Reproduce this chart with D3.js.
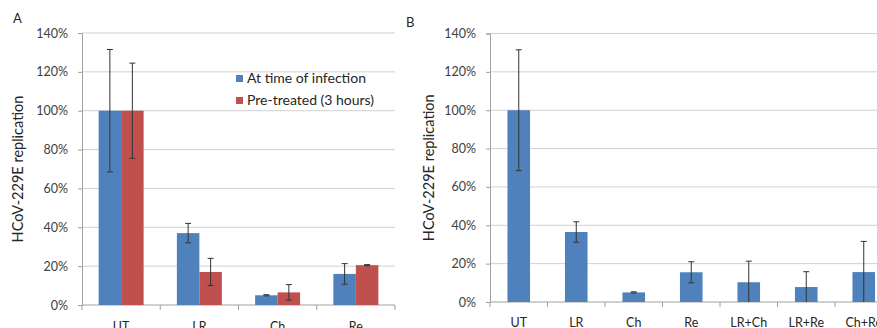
<!DOCTYPE html>
<html><head><meta charset="utf-8">
<script src="https://cdn.jsdelivr.net/npm/d3@7"></script>
<style>body{margin:0;background:#fff;}svg{display:block;}text{font-family:Lato,"Open Sans",sans-serif;}</style>
</head><body><div id="c"></div>
<script>
const catsA = ["UT","LR","Ch","Re"];
const atInfection = [100,37,5,16];
const atInfectionErr = [31.5,5,0.3,5.3];
const preTreated = [100,17,6.5,20.5];
const preTreatedErr = [24.5,7,4,0.3];
const seriesNames = ["At time of infection","Pre-treated (3 hours)"];
const catsB = ["UT","LR","Ch","Re","LR+Ch","LR+Re","Ch+Re"];
const valuesB = [100,36.5,5,15.5,10.3,7.8,15.6];
const errB = [31.5,5.3,0.3,5.5,11,8,16];
const yTicks = [0,20,40,60,80,100,120,140];
const colors = ["#4F81BD","#C0504D"];

const W=877,H=328;
const svg=d3.select("#c").append("svg").attr("width",W).attr("height",H);

function panel(opt){
  const g=svg.append("g");
  const y=d3.scaleLinear().domain([0,140]).range([opt.y0,opt.y1]);
  const x=d3.scaleBand().domain(opt.cats).range([opt.x0,opt.x1]).paddingInner(opt.pad).paddingOuter(opt.pad/2);
  g.selectAll(".grid").data(yTicks.filter(d=>d>0)).join("line")
    .attr("x1",opt.x0).attr("x2",opt.x1).attr("y1",d=>y(d)).attr("y2",d=>y(d))
    .attr("stroke","#d0d0d0").attr("stroke-width",1);
  const ya=g.append("g").attr("transform",`translate(${opt.x0},0)`)
    .call(d3.axisLeft(y).tickValues(yTicks).tickFormat(d=>d+"%").tickSize(4).tickPadding(10));
  ya.select(".domain").attr("stroke","#a0a0a0");
  ya.selectAll(".tick line").attr("stroke","#a0a0a0");
  ya.selectAll("text").attr("font-size",12.5).attr("fill","#404040").attr("font-family","Lato,sans-serif");
  const step=x.step();
  g.append("line").attr("x1",opt.x0).attr("x2",opt.x1).attr("y1",y(0)).attr("y2",y(0)).attr("stroke","#a0a0a0");
  g.selectAll(".xt").data(d3.range(opt.cats.length+1)).join("line")
    .attr("x1",i=>opt.x0+i*step).attr("x2",i=>opt.x0+i*step)
    .attr("y1",y(0)).attr("y2",y(0)+5).attr("stroke","#a0a0a0");
  g.selectAll(".xl").data(opt.cats).join("text")
    .attr("x",d=>x(d)+x.bandwidth()/2).attr("y",opt.labelY)
    .attr("text-anchor","middle").attr("font-size",12.5).attr("fill","#262626").text(d=>d);
  opt.series.forEach((s,si)=>{
    const inner=d3.scaleBand().domain(d3.range(opt.series.length)).range([0,x.bandwidth()]);
    const bw=inner.bandwidth();
    g.selectAll(".b"+si).data(opt.cats).join("rect")
      .attr("x",(d,i)=>x(d)+inner(si)).attr("width",bw)
      .attr("y",(d,i)=>y(s.values[i])).attr("height",(d,i)=>y(0)-y(s.values[i]))
      .attr("fill",colors[si]);
    const eg=g.selectAll(".e"+si).data(opt.cats).join("g");
    eg.each(function(d,i){
      const cx=x(d)+inner(si)+bw/2;
      const top=y(s.values[i]+s.err[i]);
      const bot=y(Math.max(0,s.values[i]-s.err[i]));
      const e=d3.select(this);
      e.append("line").attr("x1",cx).attr("x2",cx).attr("y1",top).attr("y2",bot).attr("stroke","#333").attr("stroke-width",1);
      e.append("line").attr("x1",cx-3).attr("x2",cx+3).attr("y1",top).attr("y2",top).attr("stroke","#333").attr("stroke-width",1);
      if(s.values[i]-s.err[i]>0)
        e.append("line").attr("x1",cx-3).attr("x2",cx+3).attr("y1",bot).attr("y2",bot).attr("stroke","#333").attr("stroke-width",1);
    });
  });
  g.append("text").attr("transform",`translate(${opt.titleX},${(opt.y0+opt.y1)/2}) rotate(-90)`)
    .attr("text-anchor","middle").attr("font-size",14.5).attr("fill","#262626").text("HCoV-229E replication");
  g.append("text").attr("x",opt.letterX).attr("y",opt.letterY).attr("font-size",13).attr("fill","#262626").text(opt.letter);
  return {x,y,g};
}

panel({cats:catsA,x0:82,x1:395,y0:305,y1:33,pad:0.425,labelY:331,titleX:23,letter:"A",letterX:13,letterY:23,
  series:[{values:atInfection,err:atInfectionErr},{values:preTreated,err:preTreatedErr}]});
panel({cats:catsB,x0:490,x1:892.5,y0:302,y1:33.5,pad:0.607,labelY:327,titleX:434,letter:"B",letterX:406,letterY:27,
  series:[{values:valuesB,err:errB}]});

const lg=svg.append("g");
seriesNames.forEach((n,i)=>{
  const ly=79+i*22;
  lg.append("rect").attr("x",236).attr("y",ly-4).attr("width",7).attr("height",7).attr("fill",colors[i]);
  lg.append("text").attr("x",247).attr("y",ly).attr("dominant-baseline","middle").attr("font-size",14).attr("fill","#262626").text(n);
});
</script></body></html>
